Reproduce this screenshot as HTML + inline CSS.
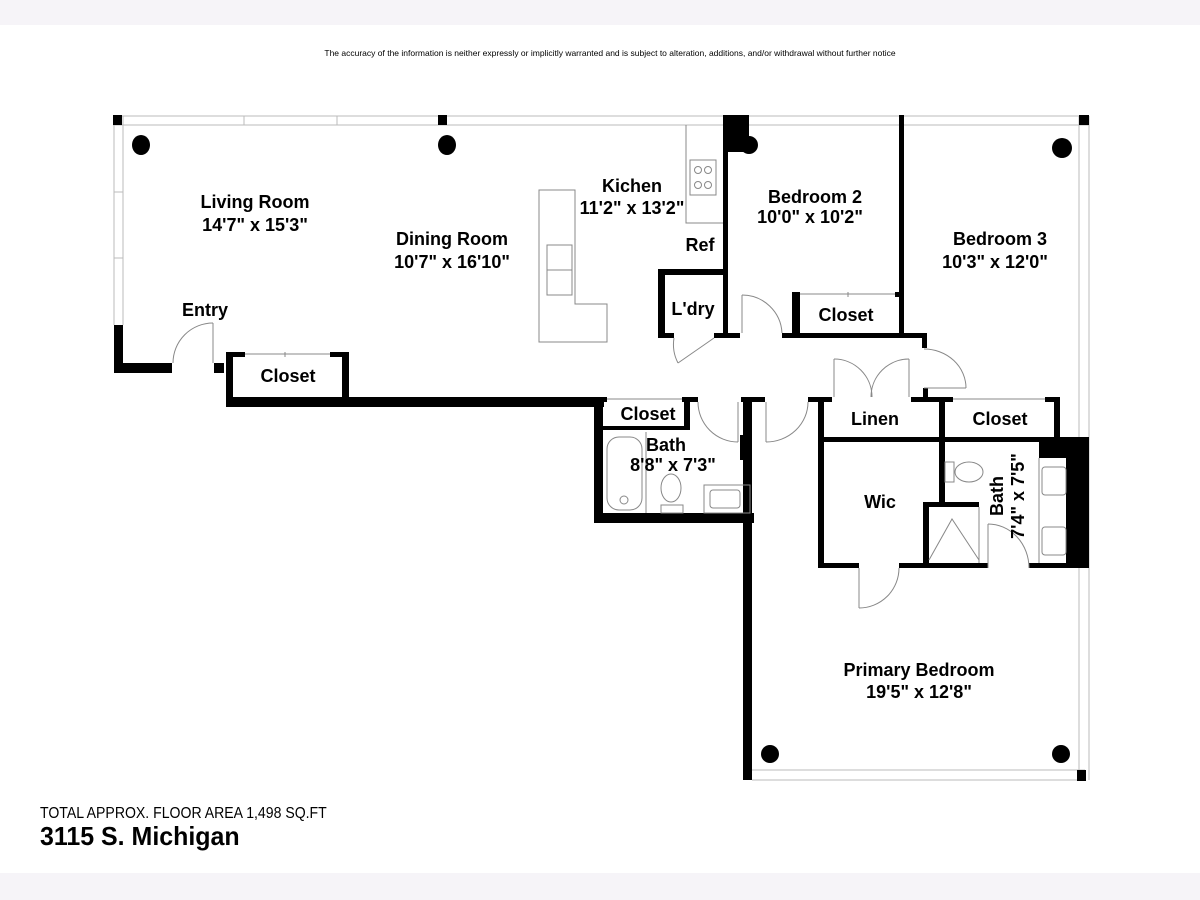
<!DOCTYPE html>
<html><head><meta charset="utf-8"><style>
html,body{margin:0;padding:0;background:#fff}
svg{display:block}
text{font-family:"Liberation Sans",Arial,sans-serif}
.l{font-weight:bold;font-size:18px;text-anchor:middle;fill:#000}
</style></head><body>
<svg width="1200" height="900" viewBox="0 0 1200 900" xmlns="http://www.w3.org/2000/svg">
<rect x="0" y="0" width="1200" height="25" fill="#f6f4f8"/>
<rect x="0" y="873" width="1200" height="27" fill="#f6f4f8"/>
<text x="610" y="56" font-size="8.5" text-anchor="middle">The accuracy of the information is neither expressly or implicitly warranted and is subject to alteration, additions, and/or withdrawal without further notice</text>

<g fill="none" stroke="#bbb" stroke-width="1">
<line x1="113" y1="116" x2="1089" y2="116"/><line x1="113" y1="125" x2="1089" y2="125"/>
<line x1="114" y1="116" x2="114" y2="325"/><line x1="123" y1="116" x2="123" y2="325"/>
<line x1="244" y1="116" x2="244" y2="125"/><line x1="337" y1="116" x2="337" y2="125"/>
<line x1="114" y1="192" x2="123" y2="192"/><line x1="114" y1="258" x2="123" y2="258"/>
<line x1="1079" y1="116" x2="1079" y2="780"/><line x1="1089" y1="116" x2="1089" y2="780"/>
<line x1="752" y1="770" x2="1085" y2="770"/><line x1="752" y1="780" x2="1085" y2="780"/>
</g>

<g fill="#000">
<rect x="113" y="115" width="9" height="10"/><rect x="438" y="115" width="9" height="10"/>
<rect x="1079" y="115" width="10" height="10"/><rect x="1077" y="770" width="9" height="11"/>
<ellipse cx="141" cy="145" rx="9" ry="10"/><ellipse cx="447" cy="145" rx="9" ry="10"/>
<circle cx="1062" cy="148" r="10"/><circle cx="770" cy="754" r="9"/><circle cx="1061" cy="754" r="9"/>
<rect x="723" y="115" width="26" height="18"/><rect x="723" y="133" width="26" height="19"/><circle cx="749" cy="145" r="9"/>

<rect x="114" y="325" width="9" height="48"/><rect x="114" y="363" width="58" height="10"/>
<rect x="214" y="363" width="10" height="10"/>
<rect x="226" y="352" width="7" height="55"/><rect x="226" y="352" width="19" height="5"/>
<rect x="330" y="352" width="19" height="5"/><rect x="342" y="352" width="7" height="50"/>
<rect x="226" y="397" width="378" height="10"/>
<rect x="594" y="397" width="9" height="126"/><rect x="594" y="513" width="160" height="10"/>
<rect x="603" y="397" width="4" height="5"/><rect x="682" y="397" width="16" height="5"/>
<rect x="684" y="397" width="6" height="33"/><rect x="603" y="426" width="87" height="4"/>
<rect x="741" y="397" width="24" height="5"/><rect x="743" y="397" width="9" height="383"/>
<rect x="740" y="435" width="7" height="25"/>
<rect x="808" y="397" width="24" height="5"/>
<rect x="818" y="397" width="6" height="171"/>
<rect x="911" y="397" width="34" height="5"/><rect x="923" y="388" width="5" height="10"/>
<rect x="818" y="437" width="271" height="5"/>
<rect x="939" y="397" width="6" height="105"/>
<rect x="939" y="397" width="14" height="5"/><rect x="1045" y="397" width="15" height="5"/>
<rect x="1054" y="397" width="6" height="40"/>
<rect x="1039" y="437" width="50" height="21"/><rect x="1066" y="437" width="23" height="131"/>
<rect x="818" y="563" width="41" height="5"/><rect x="899" y="563" width="89" height="5"/>
<rect x="1029" y="563" width="60" height="5"/>
<rect x="923" y="502" width="6" height="66"/><rect x="923" y="502" width="56" height="5"/>
<rect x="723" y="133" width="5" height="205"/><rect x="715" y="333" width="25" height="5"/>
<rect x="782" y="333" width="145" height="5"/><rect x="922" y="333" width="5" height="15"/>
<rect x="899" y="115" width="5" height="223"/>
<rect x="792" y="292" width="8" height="46"/><rect x="792" y="292" width="8" height="5"/>
<rect x="895" y="292" width="4" height="5"/>
<rect x="658" y="269" width="7" height="69"/><rect x="658" y="269" width="70" height="6"/>
<rect x="658" y="333" width="16" height="5"/><rect x="714" y="333" width="26" height="5"/>
</g>

<g fill="none" stroke="#888" stroke-width="1">
<line x1="245" y1="354" x2="330" y2="354"/><line x1="285" y1="352" x2="285" y2="357"/>
<line x1="800" y1="294" x2="895" y2="294"/><line x1="848" y1="292" x2="848" y2="297"/>
<line x1="607" y1="399" x2="682" y2="399"/><line x1="953" y1="399" x2="1045" y2="399"/>
<line x1="213" y1="323" x2="213" y2="363"/><path d="M173 363 A40 40 0 0 1 213 323"/>
<line x1="742" y1="295" x2="742" y2="333"/><path d="M742 295 A40 40 0 0 1 782 333"/>
<line x1="714" y1="338" x2="678" y2="363"/><path d="M674 338 A40 40 0 0 0 678 363"/>
<line x1="738" y1="402" x2="738" y2="442"/><path d="M698 402 A40 40 0 0 0 738 442"/>
<line x1="766" y1="402" x2="766" y2="442"/><path d="M766 442 A42 40 0 0 0 808 402"/>
<line x1="834" y1="359" x2="834" y2="397"/><line x1="909" y1="359" x2="909" y2="397"/>
<path d="M834 359 A38 38 0 0 1 872 397"/><path d="M909 359 A38 38 0 0 0 871 397"/>
<line x1="924" y1="388" x2="966" y2="388"/><path d="M924 349 A42 39 0 0 1 966 388"/>
<line x1="859" y1="568" x2="859" y2="608"/><path d="M859 608 A40 40 0 0 0 899 568"/>
<line x1="988" y1="524" x2="988" y2="568"/><path d="M988 524 A41 44 0 0 1 1029 568"/>
<path d="M539 190 H575 V304 H607 V342 H539 Z"/>
<rect x="547" y="245" width="25" height="50"/><line x1="547" y1="270" x2="572" y2="270"/>
<path d="M686 125 V223 H723"/>
<rect x="690" y="160" width="26" height="35"/>
<circle cx="698" cy="170" r="3.5"/><circle cx="708" cy="170" r="3.5"/>
<circle cx="698" cy="185" r="3.5"/><circle cx="708" cy="185" r="3.5"/>
<rect x="607" y="437" width="35" height="73" rx="12"/><circle cx="624" cy="500" r="4"/>
<line x1="646" y1="432" x2="646" y2="513"/>
<ellipse cx="671" cy="488" rx="10" ry="14"/><rect x="661" y="505" width="22" height="8"/>
<rect x="704" y="485" width="46" height="28"/><rect x="710" y="490" width="30" height="18" rx="3"/>
<ellipse cx="969" cy="472" rx="14" ry="10"/><rect x="945" y="462" width="9" height="20"/>
<rect x="1042" y="467" width="24" height="28" rx="3"/><rect x="1042" y="527" width="24" height="28" rx="3"/>
<line x1="1039" y1="458" x2="1039" y2="563"/>
<path d="M929 560 L952 519 L979 560"/><line x1="979" y1="507" x2="979" y2="563"/>
</g>

<text class="l" x="255" y="208">Living Room</text><text class="l" x="255" y="231">14'7" x 15'3"</text>
<text class="l" x="452" y="245">Dining Room</text><text class="l" x="452" y="268">10'7" x 16'10"</text>
<text class="l" x="632" y="192">Kichen</text><text class="l" x="632" y="214">11'2" x 13'2"</text>
<text class="l" x="700" y="251">Ref</text>
<text class="l" x="693" y="315">L'dry</text>
<text class="l" x="815" y="203">Bedroom 2</text><text class="l" x="810" y="223">10'0" x 10'2"</text>
<text class="l" x="1000" y="245">Bedroom 3</text><text class="l" x="995" y="268">10'3" x 12'0"</text>
<text class="l" x="205" y="316">Entry</text>
<text class="l" x="288" y="382">Closet</text>
<text class="l" x="846" y="321">Closet</text>
<text class="l" x="648" y="420">Closet</text>
<text class="l" x="875" y="425">Linen</text>
<text class="l" x="1000" y="425">Closet</text>
<text class="l" x="666" y="451">Bath</text><text class="l" x="673" y="471">8'8" x 7'3"</text>
<text class="l" x="880" y="508">Wic</text>
<text class="l" transform="translate(1003,496) rotate(-90)">Bath</text>
<text class="l" transform="translate(1024,496) rotate(-90)">7'4" x 7'5"</text>
<text class="l" x="919" y="676">Primary Bedroom</text><text class="l" x="919" y="698">19'5" x 12'8"</text>

<text x="40" y="818" font-size="16" transform="translate(40,0) scale(0.88,1) translate(-40,0)">TOTAL APPROX. FLOOR AREA 1,498 SQ.FT</text>
<text x="40" y="845" font-size="26" font-weight="bold" transform="translate(40,0) scale(0.96,1) translate(-40,0)">3115 S. Michigan</text>
</svg>
</body></html>
